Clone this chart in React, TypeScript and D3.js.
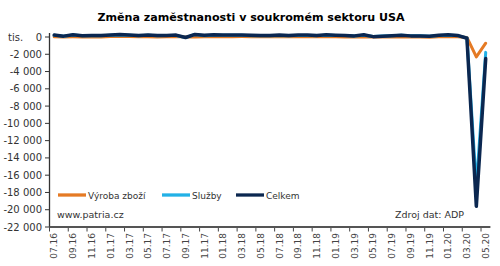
import React from "react";
import * as d3 from "d3";

const months = [
  "07.16","08.16","09.16","10.16","11.16","12.16",
  "01.17","02.17","03.17","04.17","05.17","06.17","07.17","08.17","09.17","10.17","11.17","12.17",
  "01.18","02.18","03.18","04.18","05.18","06.18","07.18","08.18","09.18","10.18","11.18","12.18",
  "01.19","02.19","03.19","04.19","05.19","06.19","07.19","08.19","09.19","10.19","11.19","12.19",
  "01.20","02.20","03.20","04.20","05.20",
];
const celkem = [
  220, 100, 250, 150, 180, 160,
  240, 300, 240, 180, 230, 160, 180, 220, -60, 300, 190, 250,
  240, 235, 240, 200, 180, 180, 220, 170, 230, 220, 180, 260,
  210, 180, 130, 250, 40, 100, 150, 190, 130, 120, 80, 200,
  260, 180, -150, -19600, -2500,
];
const vyroba = [
  22, 8, 19, 11, 24, 10,
  49, 66, 49, 21, 38, 14, 20, 50, 8, 11, 35, 55,
  40, 42, 50, 41, 32, 38, 36, 20, 45, 40, 21, 44,
  39, 8, 1, 39, -13, -10, -6, 0, -3, -12, -15, 34,
  50, 17, -50, -2300, -720,
];
const sluzby = celkem.map((v, i) => v - vyroba[i]);
const yTicks = d3.range(-22000, 1, 2000);

const W = 500, H = 266;
const left = 49.5, right = 490.4, top = 37, bottom = 227;
const font = "DejaVu Sans, Verdana, sans-serif";
const cOrange = "#E57A24";
const cLight = "#22B1E6";
const cNavy = "#0B2750";

export default function App() {
  const x = d3.scaleBand<string>().domain(months).range([left, right]).paddingInner(0).paddingOuter(0);
  const w = x.bandwidth();
  const y = d3.scaleLinear().domain([-22000, 0]).range([bottom, top]);
  const loc = d3.formatLocale({ decimal: ",", thousands: "\u00a0", grouping: [3], currency: ["", ""], minus: "-" });
  const fmt = loc.format(",d");
  const line = d3.line<number>().x((_, i) => (x(months[i]) as number) + w / 2).y((d) => y(d)).curve(d3.curveLinear);

  const series = [
    { name: "Výroba zboží", data: vyroba, color: cOrange, width: 3 },
    { name: "Služby", data: sluzby, color: cLight, width: 3 },
    { name: "Celkem", data: celkem, color: cNavy, width: 3.5 },
  ];
  const legendX = [58, 162, 236];

  return (
    <svg width={W} height={H} style={{ position: "absolute", left: 0, top: 0, background: "#fff" }}>
      <text x={251} y={21} textAnchor="middle" fontFamily={font} fontWeight="bold" fontSize={11.1} fill="#000">
        Změna zaměstnanosti v soukromém sektoru USA
      </text>
      <text x={8} y={40.5} fontFamily={font} fontSize={10} fill="#333">tis.</text>
      {yTicks.map((t) => (
        <g key={t}>
          <line x1={45} x2={left} y1={y(t)} y2={y(t)} stroke="#333" strokeWidth={1} />
          <text x={42} y={y(t) + 3.5} textAnchor="end" fontFamily={font} fontSize={10} fill="#333">
            {fmt(t)}
          </text>
        </g>
      ))}
      {months.map((m, i) =>
        i % 2 === 0 ? (
          <g key={m}>
            <line x1={x(m) as number} x2={x(m) as number} y1={bottom} y2={bottom + 4.5} stroke="#444" strokeWidth={1} />
            <text
              transform={`translate(${(x(m) as number) + w / 2 + 3.3},${bottom + 6}) rotate(-90)`}
              textAnchor="end"
              fontFamily={font}
              fontSize={9}
              fill="#444"
            >
              {m}
            </text>
          </g>
        ) : null
      )}
      {series.map((s) => (
        <path key={s.name} d={line(s.data) || ""} fill="none" stroke={s.color} strokeWidth={s.width} strokeLinejoin="round" strokeLinecap="round" />
      ))}
      <line x1={left} x2={left} y1={top - 4} y2={bottom} stroke="#333" strokeWidth={1.3} />
      <line x1={left} x2={right} y1={bottom} y2={bottom} stroke="#555" strokeWidth={2} />
      {series.map((s, i) => (
        <g key={s.name}>
          <line x1={legendX[i]} x2={legendX[i] + 28} y1={195} y2={195} stroke={s.color} strokeWidth={3.3} />
          <text x={legendX[i] + 30} y={198.5} fontFamily={font} fontSize={9} fill="#333">{s.name}</text>
        </g>
      ))}
      <text x={57} y={218} fontFamily={font} fontSize={9.5} fill="#333">www.patria.cz</text>
      <text x={395} y={217.5} fontFamily={font} fontSize={9.5} fill="#333">Zdroj dat: ADP</text>
    </svg>
  );
}
